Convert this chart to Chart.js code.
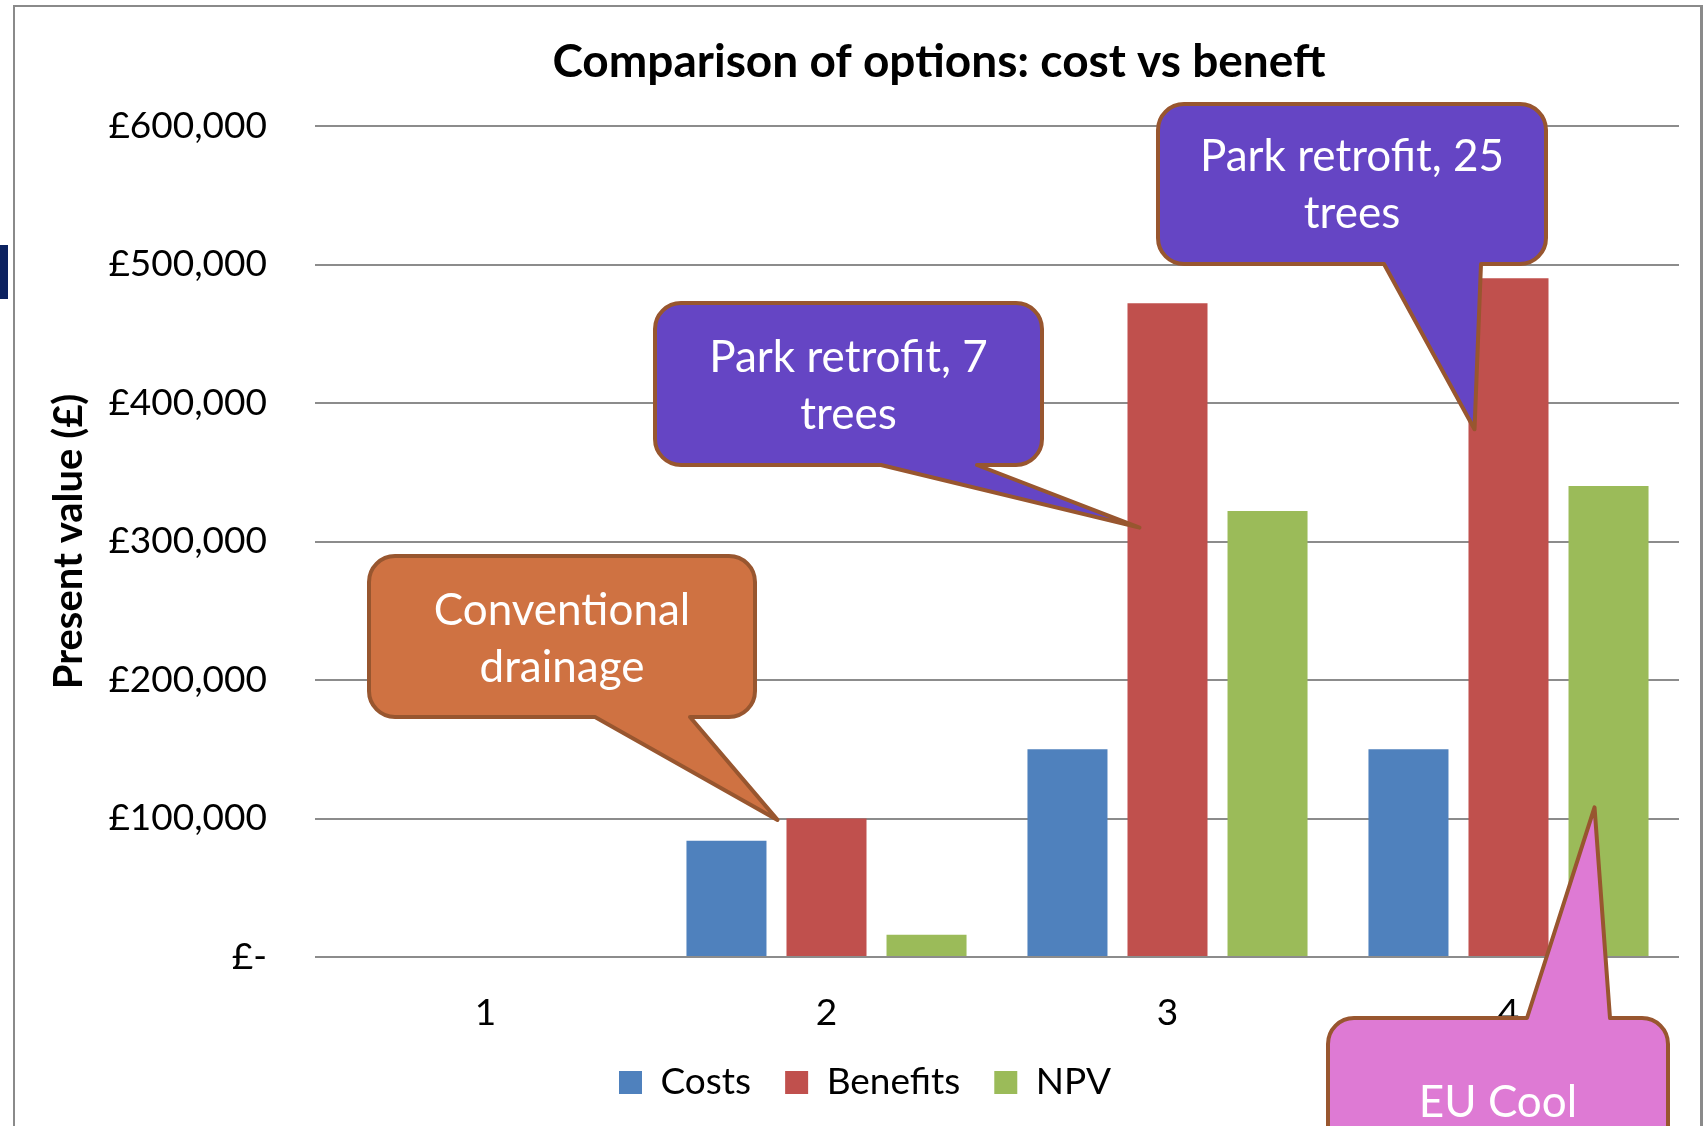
<!DOCTYPE html>
<html>
<head>
<meta charset="utf-8">
<title>Comparison of options: cost vs beneft</title>
<script src="https://cdn.jsdelivr.net/npm/chart.js@4.4.1/dist/chart.umd.min.js"></script>
<style>
  html, body { margin: 0; padding: 0; background: #fff; overflow: hidden; }
  #wrap { position: relative; width: 1704px; height: 1126px; }
  #frame { position: absolute; left: 13px; top: 5px; width: 1685px; height: 1200px; border: 2px solid #8a8a8a; border-right-width: 3px; }
  #tab { position: absolute; left: 0; top: 245px; width: 8px; height: 54px; background: #0c2260; }
  canvas { position: absolute; left: 0; top: 0; }
</style>
</head>
<body>
<div id="wrap">
  <div id="frame"></div>
  <div id="tab"></div>
  <canvas id="chart" width="1704" height="1126"></canvas>
</div>
<script>
// chart data
const categories = ['1', '2', '3', '4'];
const costs = [0, 84000, 150000, 150000];
const benefits = [0, 100000, 472000, 490000];
const npv = [0, 16000, 322000, 340000];
const yTicks = [0, 100000, 200000, 300000, 400000, 500000, 600000];

const chartTitle = 'Comparison of options: cost vs beneft';

// speech-bubble annotations, tip points at a bar value
const callouts = [
  { lines: ['Conventional', 'drainage'], fill: '#cf7242', box: [369, 556, 386, 161], base: [595, 690], side: 'bottom', textY: 611, tip: { ds: 1, i: 1, v: 99000, dx: -49 } },
  { lines: ['Park retrofit, 7', 'trees'], fill: '#6545c4', box: [655, 303, 387, 162], base: [881, 977], side: 'bottom', textY: 358, tip: { ds: 1, i: 2, v: 310000, dx: -28 } },
  { lines: ['Park retrofit, 25', 'trees'], fill: '#6545c4', box: [1158, 104, 388, 160], base: [1384, 1481], side: 'bottom', textY: 157, tip: { ds: 1, i: 3, v: 381000, dx: -34 } },
  { lines: ['EU Cool'], fill: '#de7ad4', box: [1328, 1018, 340, 200], base: [1527, 1610], side: 'top', textY: 1103, tip: { ds: 2, i: 3, v: 108000, dx: -14 } }
];

Chart.defaults.font.family = 'Lato';
Chart.defaults.color = '#000';

function calloutPath(ctx, c, tipX, tipY) {
  const [x, y, w, h] = c.box;
  const r = 26;
  const [b1, b2] = c.base;
  ctx.beginPath();
  ctx.moveTo(x + r, y);
  if (c.side === 'top') {
    ctx.lineTo(b1, y);
    ctx.lineTo(tipX, tipY);
    ctx.lineTo(b2, y);
  }
  ctx.lineTo(x + w - r, y);
  ctx.arcTo(x + w, y, x + w, y + r, r);
  ctx.lineTo(x + w, y + h - r);
  ctx.arcTo(x + w, y + h, x + w - r, y + h, r);
  if (c.side === 'bottom') {
    ctx.lineTo(b2, y + h);
    ctx.lineTo(tipX, tipY);
    ctx.lineTo(b1, y + h);
  }
  ctx.lineTo(x + r, y + h);
  ctx.arcTo(x, y + h, x, y + h - r, r);
  ctx.lineTo(x, y + r);
  ctx.arcTo(x, y, x + r, y, r);
  ctx.closePath();
}

const calloutPlugin = {
  id: 'callouts',
  afterDatasetsDraw(chart) {
    const ctx = chart.ctx;
    const yScale = chart.scales.y;
    ctx.save();
    callouts.forEach(c => {
      const bar = chart.getDatasetMeta(c.tip.ds).data[c.tip.i];
      const tipX = bar.x + c.tip.dx;
      const tipY = yScale.getPixelForValue(c.tip.v);
      calloutPath(ctx, c, tipX, tipY);
      ctx.fillStyle = c.fill;
      ctx.fill();
      ctx.lineWidth = 4;
      ctx.lineJoin = 'round';
      ctx.strokeStyle = '#98562f';
      ctx.stroke();
      ctx.fillStyle = '#fff';
      ctx.font = '44px Lato';
      ctx.textAlign = 'center';
      ctx.textBaseline = 'middle';
      c.lines.forEach((t, k) => {
        ctx.fillText(t, c.box[0] + c.box[2] / 2, c.textY + k * 57);
      });
    });
    ctx.restore();
  }
};

const titlePlugin = {
  id: 'topTitle',
  afterDraw(chart) {
    const ctx = chart.ctx;
    ctx.save();
    ctx.font = 'bold 46px Lato';
    ctx.fillStyle = '#000';
    ctx.textAlign = 'center';
    ctx.textBaseline = 'alphabetic';
    ctx.fillText(chartTitle, 939, 77);
    ctx.restore();
  }
};

new Chart(document.getElementById('chart'), {
  type: 'bar',
  data: {
    labels: categories,
    datasets: [
      { label: 'Costs', data: costs, backgroundColor: '#4f81bd' },
      { label: 'Benefits', data: benefits, backgroundColor: '#c0504d' },
      { label: 'NPV', data: npv, backgroundColor: '#9bbb59' }
    ]
  },
  options: {
    responsive: false,
    animation: false,
    devicePixelRatio: 1,
    datasets: {
      bar: { barPercentage: 0.8, categoryPercentage: 0.88, borderWidth: 0 }
    },
    layout: { padding: { left: 51, right: 25, top: 126, bottom: 15 } },
    plugins: {
      legend: {
        position: 'bottom',
        labels: { font: { size: 37 }, color: '#000', boxWidth: 23, boxHeight: 23, padding: 34 }
      },
      tooltip: { enabled: false },
      title: { display: false }
    },
    scales: {
      x: {
        grid: { display: false },
        border: { display: false },
        ticks: { font: { size: 37 }, color: '#000', padding: 26 },
        afterFit: s => { s.height = 73; }
      },
      y: {
        min: 0,
        max: 600000,
        border: { display: false },
        grid: { color: '#8c8c8c', lineWidth: 2, drawTicks: false },
        afterBuildTicks: s => { s.ticks = yTicks.map(v => ({ value: v })); },
        ticks: {
          font: { size: 37 },
          color: '#000',
          padding: 48,
          callback: v => v === 0 ? '£-' : '£' + v.toLocaleString('en-GB')
        },
        title: {
          display: true,
          text: 'Present value (£)',
          color: '#000',
          font: { size: 40, weight: 'bold' },
          padding: { top: -6, bottom: 0 }
        },
        afterFit: s => { s.width = 264; }
      }
    }
  },
  plugins: [calloutPlugin, titlePlugin]
});
</script>
</body>
</html>
